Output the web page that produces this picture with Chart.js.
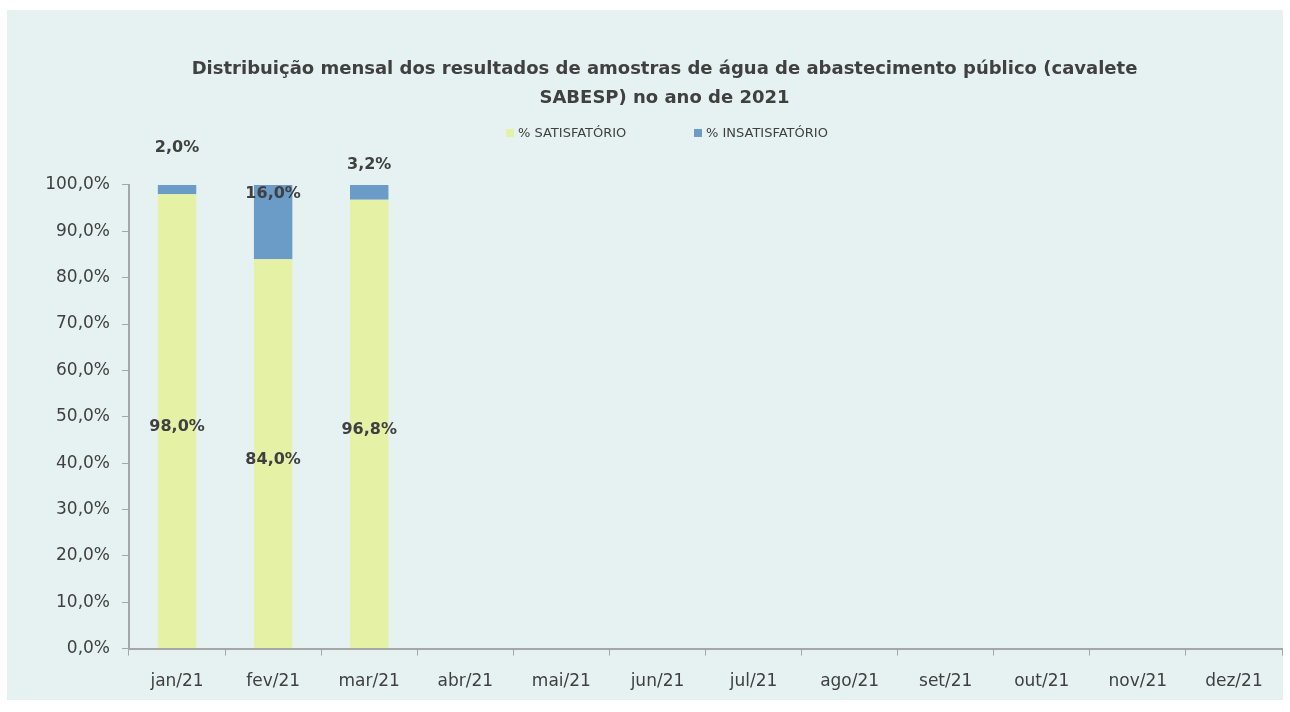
<!DOCTYPE html>
<html>
<head>
<meta charset="utf-8">
<script src="https://cdn.jsdelivr.net/npm/chart.js@4.4.1/dist/chart.umd.min.js"></script>
<style>
  html, body { margin:0; padding:0; background:#ffffff; }
  body { width:1290px; height:712px; position:relative; overflow:hidden; }
  .panel { position:absolute; left:7px; top:10px; width:1276px; height:690px; background:#e6f2f2; overflow:visible; }
  .panel canvas { display:block; }
</style>
</head>
<body>
<div class="panel"><canvas id="chart" width="1276" height="698"></canvas></div>
<script>
// valores (%)
const months = ['jan/21','fev/21','mar/21','abr/21','mai/21','jun/21','jul/21','ago/21','set/21','out/21','nov/21','dez/21'];
const satisfatorio = [98.0, 84.0, 96.8, null, null, null, null, null, null, null, null, null];
const insatisfatorio = [2.0, 16.0, 3.2, null, null, null, null, null, null, null, null, null];
const yTicks = [0, 10, 20, 30, 40, 50, 60, 70, 80, 90, 100];

const TEXT = '#404040';
const AXIS = '#a6a6a6';
const FONT = '"DejaVu Sans", sans-serif';
const pct = v => v.toFixed(1).replace('.', ',') + '%';

// rótulos de dados no estilo do Excel (posições manuais para a série de cima)
const topLabelShift = [-37, 9, -20];
const barLabels = {
  id: 'barLabels',
  afterDatasetsDraw(chart) {
    const ctx = chart.ctx;
    ctx.save();
    ctx.font = 'bold 16px ' + FONT;
    ctx.fillStyle = TEXT;
    ctx.textAlign = 'center';
    ctx.textBaseline = 'middle';
    chart.getDatasetMeta(0).data.forEach((bar, i) => {
      const v = satisfatorio[i];
      if (v == null) return;
      ctx.fillText(pct(v), bar.x, (bar.y + bar.base) / 2 + 6);
    });
    chart.getDatasetMeta(1).data.forEach((bar, i) => {
      const v = insatisfatorio[i];
      if (v == null) return;
      ctx.fillText(pct(v), bar.x, bar.y + (topLabelShift[i] || -12));
    });
    ctx.restore();
  }
};

// legenda desenhada à mão, entre o título e a área do gráfico
const legendX = [499, 687];
const simpleLegend = {
  id: 'simpleLegend',
  afterDraw(chart) {
    const ctx = chart.ctx;
    const y = chart.chartArea.top - 52;
    ctx.save();
    ctx.font = '13px ' + FONT;
    ctx.textBaseline = 'middle';
    chart.data.datasets.forEach((ds, i) => {
      const x = legendX[i];
      ctx.fillStyle = ds.backgroundColor;
      ctx.fillRect(x, y - 4, 8, 8);
      ctx.fillStyle = TEXT;
      ctx.fillText(ds.label, x + 12, y + 1);
    });
    ctx.restore();
  }
};

new Chart(document.getElementById('chart'), {
  type: 'bar',
  data: {
    labels: months,
    datasets: [
      { label: '% SATISFATÓRIO', data: satisfatorio, backgroundColor: '#e5f2a6', barPercentage: 0.4, categoryPercentage: 1 },
      { label: '% INSATISFATÓRIO', data: insatisfatorio, backgroundColor: '#6b9bc7', barPercentage: 0.4, categoryPercentage: 1 }
    ]
  },
  options: {
    responsive: false,
    animation: false,
    layout: { padding: { left: 40, right: 1, top: 45, bottom: 0 } },
    plugins: {
      title: {
        display: true,
        text: ['Distribuição mensal dos resultados de amostras de água de abastecimento público (cavalete', 'SABESP) no ano de 2021'],
        color: TEXT,
        font: { family: FONT, size: 18, weight: 'bold', lineHeight: 1.61 },
        padding: { top: 0, bottom: 72 }
      },
      legend: { display: false },
      tooltip: { enabled: false }
    },
    scales: {
      x: {
        stacked: true,
        grid: { display: true, drawOnChartArea: false, color: AXIS, tickLength: 7, offset: true },
        border: { color: AXIS, width: 2 },
        ticks: { color: TEXT, font: { family: FONT, size: 17 }, padding: 16 }
      },
      y: {
        stacked: true,
        min: 0, max: 100,
        afterBuildTicks: axis => { axis.ticks = yTicks.map(v => ({ value: v })); },
        afterFit: axis => { axis.width = 82; },
        grid: { display: true, drawOnChartArea: false, color: AXIS, tickLength: 7 },
        border: { color: AXIS, width: 2 },
        ticks: { color: TEXT, font: { family: FONT, size: 17 }, padding: 12, callback: v => pct(v) }
      }
    }
  },
  plugins: [barLabels, simpleLegend]
});
</script>
</body>
</html>
